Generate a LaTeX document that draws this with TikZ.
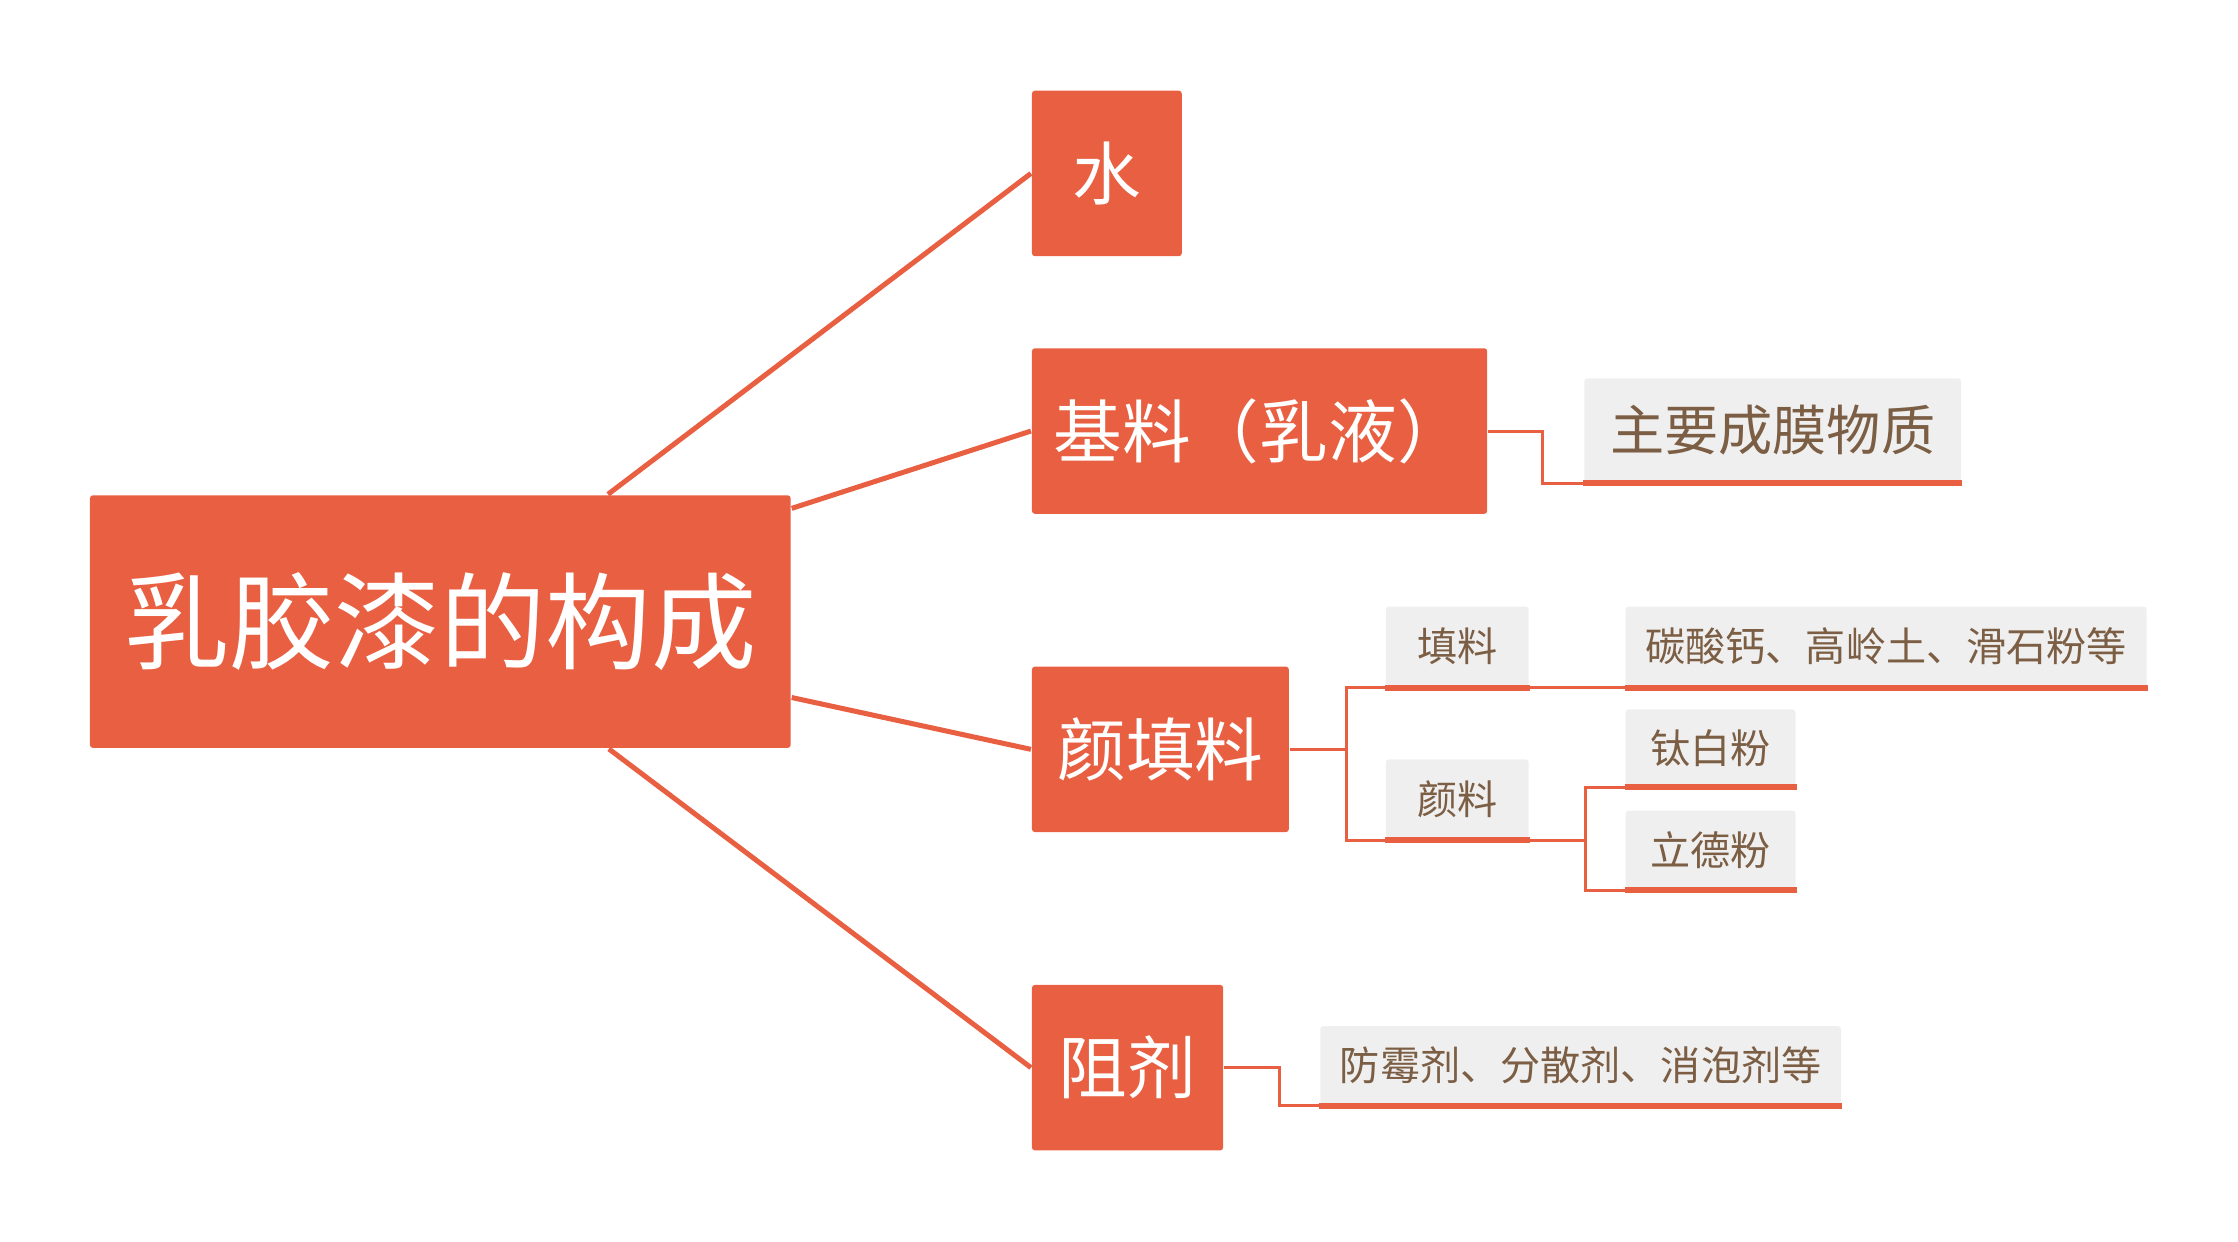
\documentclass[tikz,border=0pt]{standalone}
\usepackage{fontspec}
\setmainfont{Noto Sans CJK SC}
\definecolor{paint}{HTML}{E95F41}
\definecolor{paper}{HTML}{EFEFEF}
\definecolor{ink}{HTML}{7B5E44}
\begin{document}
\begin{tikzpicture}[x=0.1mm,y=-0.1mm,
    main/.style={fill=paint,text=white,inner sep=0pt,rounded corners=0.6pt,minimum height=11.6mm,font=\fontsize{13.7}{16}\selectfont},
    sub/.style={fill=paper,text=ink,inner sep=0pt,rounded corners=0.6pt,minimum height=5.6mm,font=\fontsize{8}{10}\selectfont},
    link/.style={draw=paint,line width=1pt},
    elbow/.style={draw=paint,line width=0.6pt},
    uline/.style={draw=paint,line width=1.2pt}]
    \useasboundingbox (0,0) rectangle (1568,870);
    \node[main,minimum width=49.1mm,minimum height=17.7mm,font=\fontsize{21}{24}\selectfont] (root) at (308.5,435.5) {乳胶漆的构成};
    \node[main,minimum width=10.5mm] (water) at (775.5,121.5) {水};
    \node[main,minimum width=31.9mm] (binder) at (882.5,302) {基料（乳液）};
    \node[main,minimum width=18mm] (pigfill) at (813,525) {颜填料};
    \node[main,minimum width=13.4mm] (retard) at (790,748) {阻剂};
    \node[sub,minimum width=26.4mm,minimum height=7.3mm,font=\fontsize{10.8}{13}\selectfont] (film) at (1242,301.5) {主要成膜物质};
    \node[sub,minimum width=10mm] (fill) at (1021,453) {填料};
    \node[sub,minimum width=10mm] (pig) at (1021,560) {颜料};
    \node[sub,minimum width=36.5mm] (fillex) at (1321.5,453) {碳酸钙、高岭土、滑石粉等};
    \node[sub,minimum width=11.9mm,minimum height=5.4mm] (titan) at (1198.5,524) {钛白粉};
    \node[sub,minimum width=11.9mm,minimum height=5.5mm] (lithop) at (1198.5,595.5) {立德粉};
    \node[sub,minimum width=36.5mm,minimum height=5.5mm] (addex) at (1107.5,746.5) {防霉剂、分散剂、消泡剂等};
    \foreach \n in {water,binder,pigfill,retard}
        \draw[link] (root) -- (\n.west);
    \draw[elbow] (binder.east) -- ++(38,0) |- (film.south west);
    \draw[elbow] (pigfill.east) -- ++(40,0) coordinate (split) |- (fill.south west);
    \draw[elbow] (split) |- (pig.south west);
    \draw[elbow] (fill.south east) -- (fillex.south west);
    \draw[elbow] (pig.south east) -- ++(39,0) coordinate (psplit) |- (titan.south west);
    \draw[elbow] (psplit) |- (lithop.south west);
    \draw[elbow] (retard.east) -- ++(39,0) |- (addex.south west);
    \foreach \n in {film,fill,pig,fillex,titan,lithop,addex}
        \draw[uline] (\n.south west) -- (\n.south east);
\end{tikzpicture}
\end{document}
